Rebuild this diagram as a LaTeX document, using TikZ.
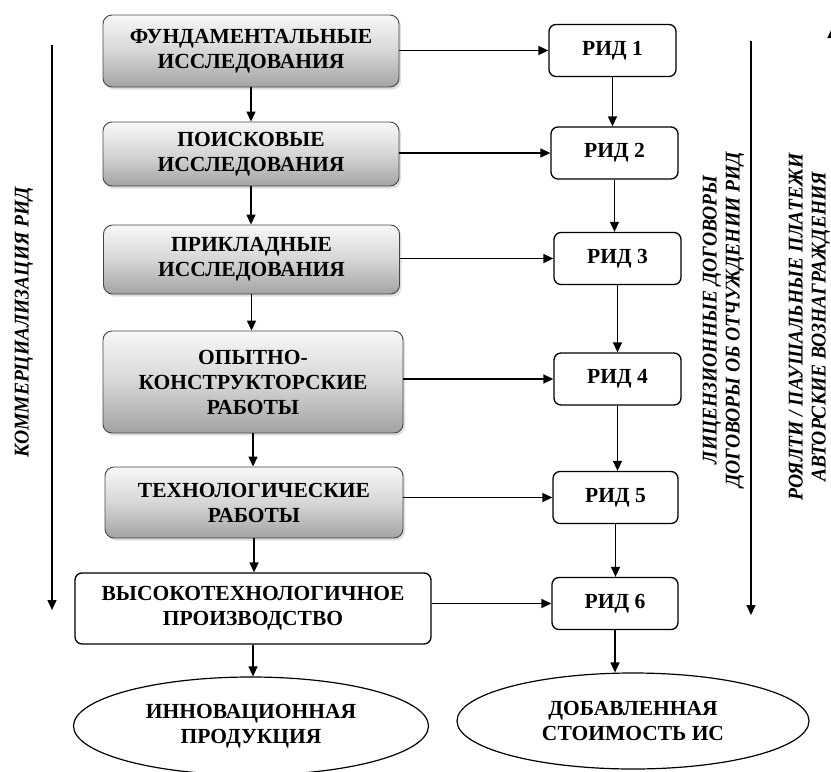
\documentclass[tikz,border=0pt]{standalone}
\usepackage{fontspec}
\setmainfont{Liberation Serif}
\newfontfamily\sidefont[FakeStretch=0.93]{Liberation Serif}
\usepackage{tikz}
\usetikzlibrary{shapes.geometric, arrows.meta, positioning, calc, shadows}

\begin{document}
\begin{tikzpicture}[x=1pt,y=-1pt,
  txt/.style={font=\fontsize{21.5}{25}\selectfont\bfseries, align=center},
  gbox/.style={txt, rounded corners=9pt, draw=gray!55!black, line width=0.9pt,
    top color=gray!6, bottom color=gray!72, middle color=gray!32,
    drop shadow={shadow xshift=2pt, shadow yshift=-2.5pt, fill=gray!50},
    minimum width=296pt, inner sep=0pt},
  wbox/.style={txt, rounded corners=7pt, draw, line width=1.3pt, fill=white, inner sep=0pt},
  ridbox/.style={wbox, minimum width=127pt, minimum height=52pt},
  oval/.style={txt, ellipse, draw, line width=1.2pt, inner sep=0pt},
  arr/.style={-{Triangle[length=10pt,width=9pt]}, line width=1.4pt},
  side/.style={font=\sidefont\fontsize{21}{23}\selectfont\bfseries\itshape, align=center, rotate=90}]
\useasboundingbox (0,0) rectangle (831,772);
\clip (0,0) rectangle (831,772);

% Stages of research
\node[gbox, minimum height=72pt] (fund) at (251,51) {ФУНДАМЕНТАЛЬНЫЕ\\ИССЛЕДОВАНИЯ};
\node[gbox, minimum height=64pt] (poisk) at (251,154) {ПОИСКОВЫЕ\\ИССЛЕДОВАНИЯ};
\node[gbox, minimum height=69pt] (prikl) at (251.5,259.5) {ПРИКЛАДНЫЕ\\ИССЛЕДОВАНИЯ};
\node[gbox, minimum height=102pt, minimum width=300pt] (okr) at (253,382) {ОПЫТНО-\\КОНСТРУКТОРСКИЕ\\РАБОТЫ};
\node[gbox, minimum height=71pt, minimum width=298pt] (tech) at (254,502.5) {ТЕХНОЛОГИЧЕСКИЕ\\РАБОТЫ};
\node[wbox, minimum height=71pt, minimum width=356pt] (proizv) at (253,608.5) {ВЫСОКОТЕХНОЛОГИЧНОЕ\\ПРОИЗВОДСТВО};
\node[oval, minimum width=355pt, minimum height=98pt] (innov) at (251,726) {ИННОВАЦИОННАЯ\\ПРОДУКЦИЯ};

% Results (RID)
\node[ridbox] (rid1) at (612.5,50.5) {РИД 1};
\node[ridbox] (rid2) at (614.5,153) {РИД 2};
\node[ridbox] (rid3) at (617.5,258.5) {РИД 3};
\node[ridbox] (rid4) at (617.5,379) {РИД 4};
\node[ridbox, minimum width=125pt] (rid5) at (615.5,497.5) {РИД 5};
\node[ridbox, minimum width=126pt] (rid6) at (615,603.5) {РИД 6};
\node[oval, minimum width=352pt, minimum height=96pt] (cost) at (633,721) {ДОБАВЛЕННАЯ\\СТОИМОСТЬ ИС};

% Connectors
\foreach \a/\b in {fund/poisk, poisk/prikl, prikl/okr, okr/tech, tech/proizv, proizv/innov,
                   rid1/rid2, rid2/rid3, rid3/rid4, rid4/rid5, rid5/rid6, rid6/cost}
  \draw[arr] (\a.south) -- (\a.south |- \b.north);
\foreach \a/\b in {fund/rid1, poisk/rid2, prikl/rid3, okr/rid4, tech/rid5, proizv/rid6}
  \draw[arr] (\b.west -| \a.east) -- (\b.west);

% Side arrows and labels
\coordinate (kt) at (52,45);   \coordinate (kb) at (52,610);
\coordinate (lt) at (751,41);  \coordinate (lb) at (751,615);
\coordinate (pb) at (832,700); \coordinate (pt) at (832,28);
\draw[arr] (kt) -- (kb);
\draw[arr] (lt) -- (lb);
\draw[arr] (pb) -- (pt);
\node[side] (komm) at (24,322) {КОММЕРЦИАЛИЗАЦИЯ РИД};
\node[side] (licen) at (723.5,320) {ЛИЦЕНЗИОННЫЕ ДОГОВОРЫ\\ДОГОВОРЫ ОБ ОТЧУЖДЕНИИ РИД};
\node[side] (royal) at (809.5,327) {РОЯЛТИ / ПАУШАЛЬНЫЕ ПЛАТЕЖИ\\АВТОРСКИЕ ВОЗНАГРАЖДЕНИЯ};
\end{tikzpicture}
\end{document}
